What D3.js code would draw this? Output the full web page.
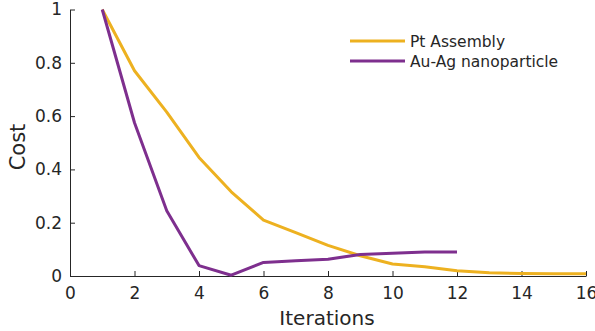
<!DOCTYPE html>
<html>
<head>
<meta charset="utf-8">
<title>Cost vs iterations</title>
<style>
body { margin: 0; background: #ffffff; }
text { font-family: "DejaVu Sans", sans-serif; fill: #262626; }
</style>
</head>
<body>
<script src="https://cdn.jsdelivr.net/npm/d3@7"></script>
<script>

var seriesNames = ["Pt Assembly", "Au-Ag nanoparticle"];
var seriesColors = ["#EDB120", "#7E2F8E"];
var ptIter = [1,2,3,4,5,6,7,8,9,10,11,12,13,14,15,16];
var ptCost = [1,0.77,0.615,0.445,0.316,0.21,0.163,0.115,0.076,0.045,0.035,0.02,0.012,0.009,0.008,0.008];
var auIter = [1,2,3,4,5,6,7,8,9,10,11,12];
var auCost = [1,0.575,0.245,0.039,0.003,0.051,0.057,0.063,0.081,0.085,0.09,0.09];
var xTicks = [0,2,4,6,8,10,12,14,16];
var yTicks = [0,0.2,0.4,0.6,0.8,1];

var w = 595, h = 331;
var plotL = 70, plotR = 586, plotT = 9.5, plotB = 276;

var svg = d3.select("body").append("svg")
    .attr("width", w)
    .attr("height", h);

var x = d3.scaleLinear().domain([0, 16]).range([plotL, plotR]);
var y = d3.scaleLinear().domain([0, 1]).range([plotB, plotT]);

// axes, ticks pointing inward
var xAxis = svg.append("g")
    .attr("transform", "translate(0," + plotB + ")")
    .call(d3.axisBottom(x).tickValues(xTicks).tickSizeInner(-5).tickSizeOuter(0).tickPadding(11)
      .tickFormat(d3.format("d")));
var yAxis = svg.append("g")
    .attr("transform", "translate(" + plotL + ",0)")
    .call(d3.axisLeft(y).tickValues(yTicks).tickSizeInner(-5).tickSizeOuter(0).tickPadding(8)
      .tickFormat(function(d) { return d3.format("")(d); }));

[xAxis, yAxis].forEach(function(g) {
  g.selectAll("path, line").attr("stroke", "#262626").attr("stroke-width", 1);
  g.selectAll("text").attr("font-size", "17px").attr("font-family", "DejaVu Sans").attr("fill", "#262626");
});

// lines
var line = d3.line()
    .x(function(d) { return x(d[0]); })
    .y(function(d) { return y(d[1]); });

var data = [
  d3.zip(ptIter, ptCost),
  d3.zip(auIter, auCost)
];

svg.selectAll(".series")
    .data(data)
    .enter()
    .append("path")
    .attr("class", "series")
    .attr("d", line)
    .attr("fill", "none")
    .attr("stroke", function(d, i) { return seriesColors[i]; })
    .attr("stroke-width", 3)
    .attr("stroke-linejoin", "round");

// axis labels
svg.append("text")
    .attr("x", 327)
    .attr("y", 325)
    .attr("text-anchor", "middle")
    .attr("font-size", "20px")
    .text("Iterations");

svg.append("text")
    .attr("transform", "translate(25,147) rotate(-90)")
    .attr("text-anchor", "middle")
    .attr("font-size", "21px")
    .text("Cost");

// legend
var legend = svg.append("g").attr("transform", "translate(350,41)");
seriesNames.forEach(function(name, i) {
  legend.append("line")
      .attr("x1", 0).attr("x2", 55)
      .attr("y1", i * 20).attr("y2", i * 20)
      .attr("stroke", seriesColors[i])
      .attr("stroke-width", 3);
  legend.append("text")
      .attr("x", 60)
      .attr("y", i * 20 + 5.5)
      .attr("font-size", "15.5px")
      .text(name);
});

</script>
</body>
</html>
